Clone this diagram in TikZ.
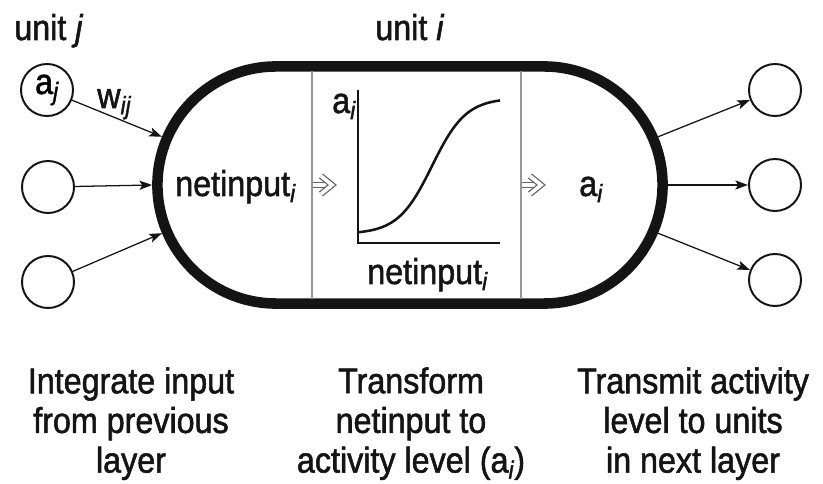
\documentclass[tikz,border=0pt]{standalone}
\usepackage{fontspec}
\setmainfont{Liberation Sans}[FakeStretch=0.9, FakeBold=1.5]
\usetikzlibrary{shapes.misc, arrows.meta, positioning}
\definecolor{tDark}{RGB}{20, 20, 20}
\definecolor{bDivide}{RGB}{150, 150, 150}
\definecolor{bGate}{RGB}{100, 100, 100}
\newcommand{\idx}[1]{\textsubscript{\itshape #1}}

\begin{document}
\begin{tikzpicture}[
    x=0.025cm, y=-0.025cm,
    font=\fontsize{25.5}{28.2}\selectfont,
    >={Stealth[length=9pt, width=6.5pt, inset=2pt]},
    unitnode/.style={
        circle,
        draw=tDark,
        line width=1.4pt,
        minimum size=1.3cm,
        inner sep=0pt
    },
    capsule/.style={
        rounded rectangle,
        draw=tDark,
        line width=7.5pt,
        minimum width=12.625cm,
        minimum height=5.925cm,
        inner sep=0pt
    },
    arrow/.style={->, line width=0.9pt, color=tDark},
    divider/.style={line width=1pt, color=bDivide},
    gatearrow/.style={double=white, double distance=2.6pt, line width=0.9pt, color=bGate, line join=miter},
    lbl/.style={inner sep=0pt, text=tDark, anchor=base west},
    caption/.style={inner sep=0pt, text=tDark, align=center, anchor=north}
]

\useasboundingbox (0,0) rectangle (823,484);

% Receiving unit i
\node[capsule] (unit) at (410,185) {};

\draw[divider] (312,71) -- (312,299);
\draw[divider] (521,71) -- (521,299);

\node[lbl] (net) at (175,196) {netinput\idx{i}};
\node[lbl] (act) at (579,196) {a\idx{i}};

% hollow arrows between the stages
\coordinate (gate1) at (313,185);
\coordinate (gate2) at (522,185);
\foreach \g in {gate1, gate2} {
    \begin{scope}[shift={(\g)}]
        \draw[gatearrow] (0,0) -- (14,0);
        \draw[gatearrow] (8,-9) -- (19,0) -- (8,9);
    \end{scope}
}

% Activation function
\draw[line width=1pt, tDark] (358,90) -- (358,243) -- (500,243);
\draw[line width=1.8pt, tDark] plot[domain=358:500, samples=60, smooth] (\x, {234 - 136/(1+exp(-(\x-432)/17))});
\node[lbl] (ylab) at (332,113) {a\idx{i}};
\node[lbl] (xlab) at (367,284) {netinput\idx{i}};

% Sending units j
\node[unitnode] (in1) at (47,90) {a\idx{j}};
\node[unitnode] (in2) at (48,187) {};
\node[unitnode] (in3) at (48,282) {};

\node[lbl] (wij) at (97,108) {w\idx{ij}};

\draw[arrow] (in1) -- (unit.169);
\draw[arrow] (in2) -- (unit.west);
\draw[arrow] (in3) -- (unit.191);

% Units in next layer
\node[unitnode] (out1) at (775,90) {};
\node[unitnode] (out2) at (775,185) {};
\node[unitnode] (out3) at (775,280) {};

\draw[arrow] (unit.11) -- (out1);
\draw[arrow] (unit.east) -- (out2);
\draw[arrow] (unit.-11) -- (out3);

% Titles
\node[lbl] (titleJ) at (14,40) {unit \textit{j}};
\node[lbl] (titleI) at (375,40) {unit \textit{i}};

% Captions
\node[caption] (cap1) at (131,367) {Integrate input\\from previous\\layer};
\node[caption] (cap2) at (411,367) {Transform\\netinput to\\activity level (a\idx{i})};
\node[caption] (cap3) at (693,367) {Transmit activity\\level to units\\in next layer};

\end{tikzpicture}
\end{document}
